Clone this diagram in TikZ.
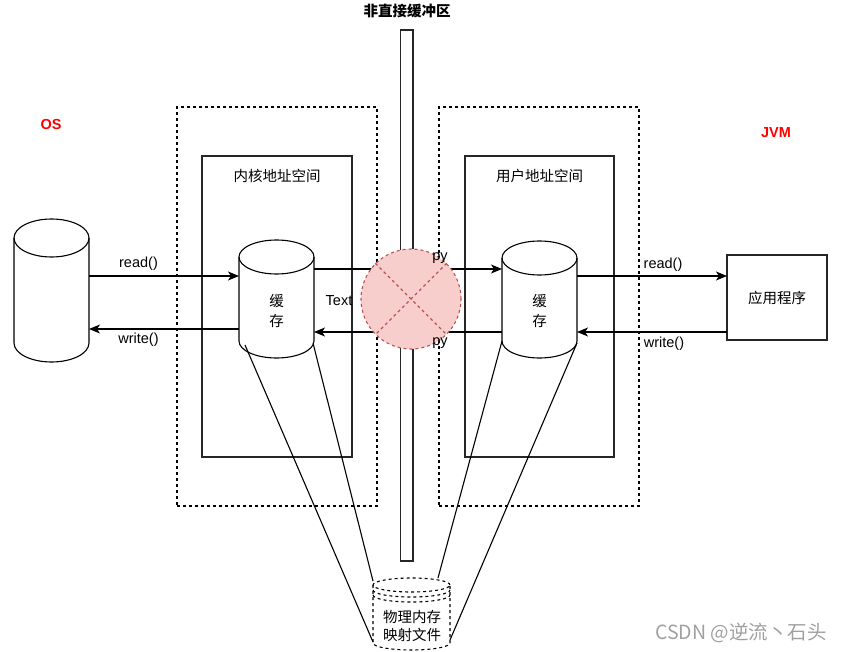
\documentclass[tikz,border=0pt]{standalone}
\usepackage{fontspec}
\setmainfont{Liberation Sans}
\newfontfamily\cjk{Noto Sans CJK SC}
\usetikzlibrary{arrows.meta}
\definecolor{pinkfill}{HTML}{F8CECC}
\definecolor{pinkline}{HTML}{B85450}
\definecolor{wmgray}{HTML}{A0A0A0}
\definecolor{osred}{HTML}{FF0000}
\newcommand\mycyl[6][]{%
  \pgfmathsetmacro\cyx{(#2+#4)/2}%
  \pgfmathsetmacro\cyrx{(#4-#2)/2}%
  \pgfmathsetmacro\cyk{0.5523*#6}%
  \pgfmathsetmacro\cykx{0.5523*\cyrx}%
  \draw[#1] (\cyx,{#3+#6}) ellipse [x radius=\cyrx pt, y radius=#6 pt];
  \draw[#1] (#2,{#3+#6}) -- (#2,{#5-#6})
    .. controls (#2,{#5-#6+\cyk}) and ({\cyx-\cykx},#5) .. (\cyx,#5)
    .. controls ({\cyx+\cykx},#5) and (#4,{#5-#6+\cyk}) .. (#4,{#5-#6})
    -- (#4,{#3+#6});
}
\newcommand\myhalfarc[5][]{%
  \pgfmathsetmacro\cyx{(#2+#4)/2}%
  \pgfmathsetmacro\cyrx{(#4-#2)/2}%
  \pgfmathsetmacro\cyk{0.5523*#5}%
  \pgfmathsetmacro\cykx{0.5523*\cyrx}%
  \draw[#1] (#2,#3)
    .. controls (#2,{#3+\cyk}) and ({\cyx-\cykx},{#3+#5}) .. (\cyx,{#3+#5})
    .. controls ({\cyx+\cykx},{#3+#5}) and (#4,{#3+\cyk}) .. (#4,#3);
}
\begin{document}
\begin{tikzpicture}[x=1pt,y=-1pt,
  lw/.style={line width=1.1pt},
  solidbox/.style={draw=black!85, lw, inner sep=0pt, outer sep=0pt},
  dashbox/.style={draw=black, lw, dash pattern=on 3pt off 3pt, inner sep=0pt, outer sep=0pt},
  holder/.style={draw=none, inner sep=0pt, outer sep=0pt},
  arr/.style={lw, -{Stealth[length=11pt,width=9pt,inset=3pt]}},
  lbl/.style={inner sep=0pt, font=\fontsize{14.5}{17}\selectfont},
  cn/.style={inner sep=0pt, font=\cjk\fontsize{14.5}{17}\selectfont},
  red/.style={inner sep=0pt, text=osred, font=\bfseries\fontsize{14.5}{17}\selectfont}
]
\useasboundingbox (0,0) rectangle (842,652);

% title and side labels
\node[inner sep=0pt, font=\cjk\bfseries\fontsize{14.5}{17}\selectfont] (title) at (407,11) {非直接缓冲区};
\node[red] (os) at (51,125) {OS};
\node[red] (jvm) at (776,133) {JVM};

% boxes
\node[dashbox, minimum width=200pt, minimum height=399pt] (kdash) at (277,306.5) {};
\node[solidbox, minimum width=150pt, minimum height=301pt] (kbox) at (277,306.5) {};
\node[cn] (ktitle) at (277,176) {内核地址空间};
\node[dashbox, minimum width=200pt, minimum height=399pt] (udash) at (539,306.5) {};
\node[solidbox, minimum width=149pt, minimum height=301pt] (ubox) at (539.5,306.5) {};
\node[cn] (utitle) at (539.5,176) {用户地址空间};

% buffer bar
\node[solidbox, minimum width=12.5pt, minimum height=531pt] (buf) at (406.75,295.5) {};

% application
\node[solidbox, minimum width=100pt, minimum height=85pt, cn] (app) at (777,297.5) {应用程序};

% cylinders
\node[holder, minimum width=75pt, minimum height=143pt] (diskL) at (51.5,290.5) {};
\mycyl[lw]{14}{219}{89}{362}{19}
\node[holder, minimum width=75pt, minimum height=118pt] (cacheL) at (276.5,299) {};
\mycyl[lw]{239}{240}{314}{358}{17}
\node[cn, align=center, font=\cjk\fontsize{14.5}{20}\selectfont] (cacheLt) at (276.5,311) {缓\\存};
\node[holder, minimum width=75pt, minimum height=117pt] (cacheR) at (539.5,299.5) {};
\mycyl[lw]{502}{241}{577}{358}{17}
\node[cn, align=center, font=\cjk\fontsize{14.5}{20}\selectfont] (cacheRt) at (539.5,311) {缓\\存};
\node[holder, minimum width=77pt, minimum height=72pt] (mem) at (411.5,614) {};
\mycyl[lw, dash pattern=on 3pt off 3pt]{373}{578}{450}{650}{7}
\myhalfarc[lw, dash pattern=on 3pt off 3pt]{373}{590}{450}{7}
\myhalfarc[lw, dash pattern=on 3pt off 3pt]{373}{595}{450}{7}
\node[cn, align=center, font=\cjk\fontsize{14.5}{18}\selectfont] (memt) at (412,626) {物理内存\\映射文件};

% mapping lines
\draw[lw] ([shift={(6,-13)}]cacheL.south west) -- ([shift={(0,-8)}]mem.south west);
\draw[lw] ([shift={(-1,-15)}]cacheL.south east) -- ([shift={(0,3)}]mem.north west);
\draw[lw] ([shift={(0,-17)}]cacheR.south west) -- ([shift={(-12,0)}]mem.north east);
\draw[lw] ([shift={(0,-15)}]cacheR.south east) -- ([shift={(0,-10)}]mem.south east);

% arrows
\draw[arr] ([yshift=14.5pt]diskL.east) -- ([yshift=23pt]cacheL.west);
\draw[arr] ([yshift=-30pt]cacheL.west) -- ([yshift=-38.5pt]diskL.east);
\draw[arr] ([yshift=30pt]cacheL.east) -- ([yshift=30.5pt]cacheR.west);
\draw[arr] ([yshift=-32.5pt]cacheR.west) -- ([yshift=-33pt]cacheL.east);
\draw[arr] ([yshift=23.5pt]cacheR.east) -- ([yshift=21.5pt]app.west);
\draw[arr] ([yshift=-34.5pt]app.west) -- ([yshift=-32.5pt]cacheR.east);

\node[lbl, anchor=base] (rdL) at (138.5,267.5) {read()};
\node[lbl, anchor=base] (wrL) at (138.5,343.5) {write()};
\node[lbl, anchor=base] (rdR) at (663,268.5) {read()};
\node[lbl, anchor=base] (wrR) at (664,347.5) {write()};
\node[lbl, anchor=base] (txt) at (339,305.5) {Text};

% blocked circle
\node[circle, fill=pinkfill, draw=pinkline, lw, dash pattern=on 3pt off 3pt, minimum size=100pt, inner sep=0pt] (block) at (411,299) {};
\draw[pinkline, lw, dash pattern=on 3pt off 3pt] (block.north west) -- (block.south east);
\draw[pinkline, lw, dash pattern=on 3pt off 3pt] (block.north east) -- (block.south west);

\node[lbl, anchor=base] (py1) at (440,260.5) {py};
\node[lbl, anchor=base] (py2) at (440,345.5) {py};

% watermark
\node[inner sep=0pt, text=wmgray, font=\cjk\fontsize{19.5}{22}\selectfont] (wm) at (741,633) {CSDN @逆流丶石头};
\end{tikzpicture}
\end{document}
